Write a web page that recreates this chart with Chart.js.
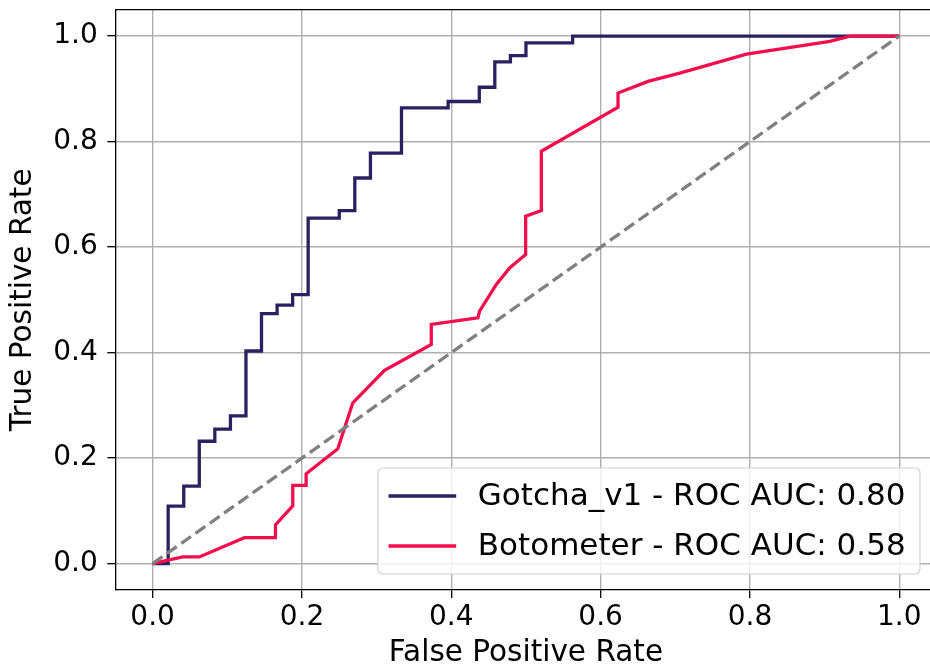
<!DOCTYPE html>
<html>
<head>
<meta charset="utf-8">
<script src="https://cdn.jsdelivr.net/npm/chart.js@4.4.1/dist/chart.umd.min.js"></script>
<style>
    html, body { margin: 0; padding: 0; overflow: hidden; background: #fff; }
    #wrap { width: 945px; height: 668px; }
</style>
</head>
<body>
<div id="wrap"><canvas id="rocChart" width="945" height="668"></canvas></div>
<script>
// ROC 곡선 데이터
const gotchaFpr = [0, 0.0208, 0.0208, 0.0417, 0.0417, 0.0625, 0.0625, 0.0833, 0.0833, 0.1042, 0.1042,
    0.125, 0.125, 0.1458, 0.1458, 0.1667, 0.1667, 0.1875, 0.1875, 0.2083, 0.2083, 0.25, 0.25,
    0.2708, 0.2708, 0.2917, 0.2917, 0.3333, 0.3333, 0.3958, 0.3958, 0.4375, 0.4375, 0.4583, 0.4583,
    0.4792, 0.4792, 0.5, 0.5, 0.5625, 0.5625, 1.0];
const gotchaTpr = [0, 0, 0.109, 0.109, 0.147, 0.147, 0.232, 0.232, 0.255, 0.255, 0.28,
    0.28, 0.403, 0.403, 0.474, 0.474, 0.49, 0.49, 0.51, 0.51, 0.655, 0.655, 0.669,
    0.669, 0.731, 0.731, 0.778, 0.778, 0.864, 0.864, 0.876, 0.876, 0.903, 0.903, 0.951,
    0.951, 0.963, 0.963, 0.987, 0.987, 1.0, 1.0];

const botoFpr = [0, 0.0402, 0.0626, 0.1229, 0.1645, 0.1645, 0.1877, 0.1877, 0.2056, 0.2056, 0.248,
    0.2681, 0.3106, 0.3732, 0.3732, 0.4357, 0.4379, 0.4603, 0.4781, 0.4996, 0.4996, 0.5206,
    0.5206, 0.6233, 0.6233, 0.6635, 0.706, 0.7954, 0.9071, 0.9339, 1.0];
const botoTpr = [0, 0.0127, 0.0127, 0.0492, 0.0492, 0.0733, 0.1093, 0.1485, 0.1485, 0.1705, 0.2178,
    0.3049, 0.3663, 0.4155, 0.4534, 0.4659, 0.4786, 0.5292, 0.5606, 0.586, 0.6585, 0.6693,
    0.7816, 0.865, 0.892, 0.9142, 0.9299, 0.9659, 0.99, 1.0, 1.0];

const chanceX = [0, 1];
const chanceY = [0, 1];

const axisTicks = [0, 0.2, 0.4, 0.6, 0.8, 1.0];
const seriesLabels = ["Gotcha_v1 - ROC AUC: 0.80", "Botometer - ROC AUC: 0.58"];
const seriesColors = ["#2b2160", "#f20d4d"];

const toPoints = (xs, ys) => xs.map((x, i) => ({ x: x, y: ys[i] }));
const FONT = "'DejaVu Sans', sans-serif";

Chart.defaults.font.family = FONT;
Chart.defaults.color = "#000";

// 위쪽/오른쪽 테두리
const frameLines = {
    id: "frameLines",
    afterDatasetsDraw(chart) {
        const { ctx, chartArea } = chart;
        ctx.save();
        ctx.strokeStyle = "#000";
        ctx.lineWidth = 1.3;
        ctx.beginPath();
        ctx.moveTo(chartArea.left, chartArea.top);
        ctx.lineTo(chartArea.right, chartArea.top);
        ctx.lineTo(chartArea.right, chartArea.bottom);
        ctx.stroke();
        ctx.restore();
    }
};

// 오른쪽 아래 범례 상자
const legendBox = {
    id: "legendBox",
    afterDraw(chart) {
        const { ctx, chartArea } = chart;
        const items = chart.data.datasets.filter(d => d.label);
        ctx.save();
        ctx.font = "31px " + FONT;
        const textW = Math.max(...items.map(d => ctx.measureText(d.label).width));
        const right = chartArea.right - 16.6;
        const bottom = chartArea.bottom - 16;
        const width = 10.7 + 67.7 + 21.6 + textW + 14.4;
        const height = 106;
        const left = right - width;
        const top = bottom - height;

        ctx.beginPath();
        ctx.roundRect(left, top, width, height, 5);
        ctx.fillStyle = "rgba(255,255,255,0.8)";
        ctx.fill();
        ctx.strokeStyle = "#d0d0d0";
        ctx.lineWidth = 1.2;
        ctx.stroke();

        items.forEach((d, i) => {
            const y = top + 28 + i * 50;
            ctx.beginPath();
            ctx.moveTo(left + 10.7, y);
            ctx.lineTo(left + 78.4, y);
            ctx.strokeStyle = d.borderColor;
            ctx.lineWidth = 3.3;
            ctx.stroke();
            ctx.fillStyle = "#000";
            ctx.textBaseline = "middle";
            ctx.textAlign = "left";
            ctx.fillText(d.label, left + 100, y + 1);
        });
        ctx.restore();
    }
};

const ctx = document.getElementById("rocChart").getContext("2d");

new Chart(ctx, {
    type: "scatter",
    data: {
        datasets: [
            {
                data: toPoints(chanceX, chanceY),
                borderColor: "#808080",
                borderWidth: 3.3,
                borderDash: [12, 5.5],
                showLine: true,
                pointRadius: 0,
                order: 0
            },
            {
                label: seriesLabels[0],
                data: toPoints(gotchaFpr, gotchaTpr),
                borderColor: seriesColors[0],
                borderWidth: 3.3,
                showLine: true,
                pointRadius: 0,
                order: 2
            },
            {
                label: seriesLabels[1],
                data: toPoints(botoFpr, botoTpr),
                borderColor: seriesColors[1],
                borderWidth: 3.3,
                showLine: true,
                pointRadius: 0,
                order: 1
            }
        ]
    },
    options: {
        responsive: false,
        animation: false,
        devicePixelRatio: 1,
        layout: { padding: { top: 9.7, right: 8.4, left: 0, bottom: 0 } },
        plugins: {
            legend: { display: false },
            tooltip: { enabled: false }
        },
        scales: {
            x: {
                type: "linear",
                min: -0.05,
                max: 1.05,
                afterBuildTicks: s => { s.ticks = axisTicks.map(v => ({ value: v })); },
                afterFit: s => { s.height = 78; s.paddingLeft = 0; s.paddingRight = 0; },
                ticks: {
                    font: { size: 28 },
                    padding: 3,
                    maxRotation: 0,
                    autoSkip: false,
                    callback: v => v.toFixed(1)
                },
                grid: { color: "#b0b0b0", lineWidth: 1.4, tickColor: "#000", tickLength: 8, tickWidth: 1.3 },
                border: { color: "#000", width: 1.3 },
                title: {
                    display: true,
                    text: "False Positive Rate",
                    font: { size: 29.5, lineHeight: 1.0 },
                    padding: 0
                }
            },
            y: {
                type: "linear",
                min: -0.05,
                max: 1.05,
                afterBuildTicks: s => { s.ticks = axisTicks.map(v => ({ value: v })); },
                afterFit: s => { s.width = 115.3; s.paddingTop = 0; s.paddingBottom = 0; },
                ticks: {
                    font: { size: 28 },
                    padding: 9.6,
                    autoSkip: false,
                    callback: v => v.toFixed(1)
                },
                grid: { color: "#b0b0b0", lineWidth: 1.4, tickColor: "#000", tickLength: 8, tickWidth: 1.3 },
                border: { color: "#000", width: 1.3 },
                title: {
                    display: true,
                    text: "True Positive Rate",
                    font: { size: 29.5, lineHeight: 1.0 },
                    padding: { top: 9, bottom: 0 }
                }
            }
        }
    },
    plugins: [frameLines, legendBox]
});
</script>
</body>
</html>
